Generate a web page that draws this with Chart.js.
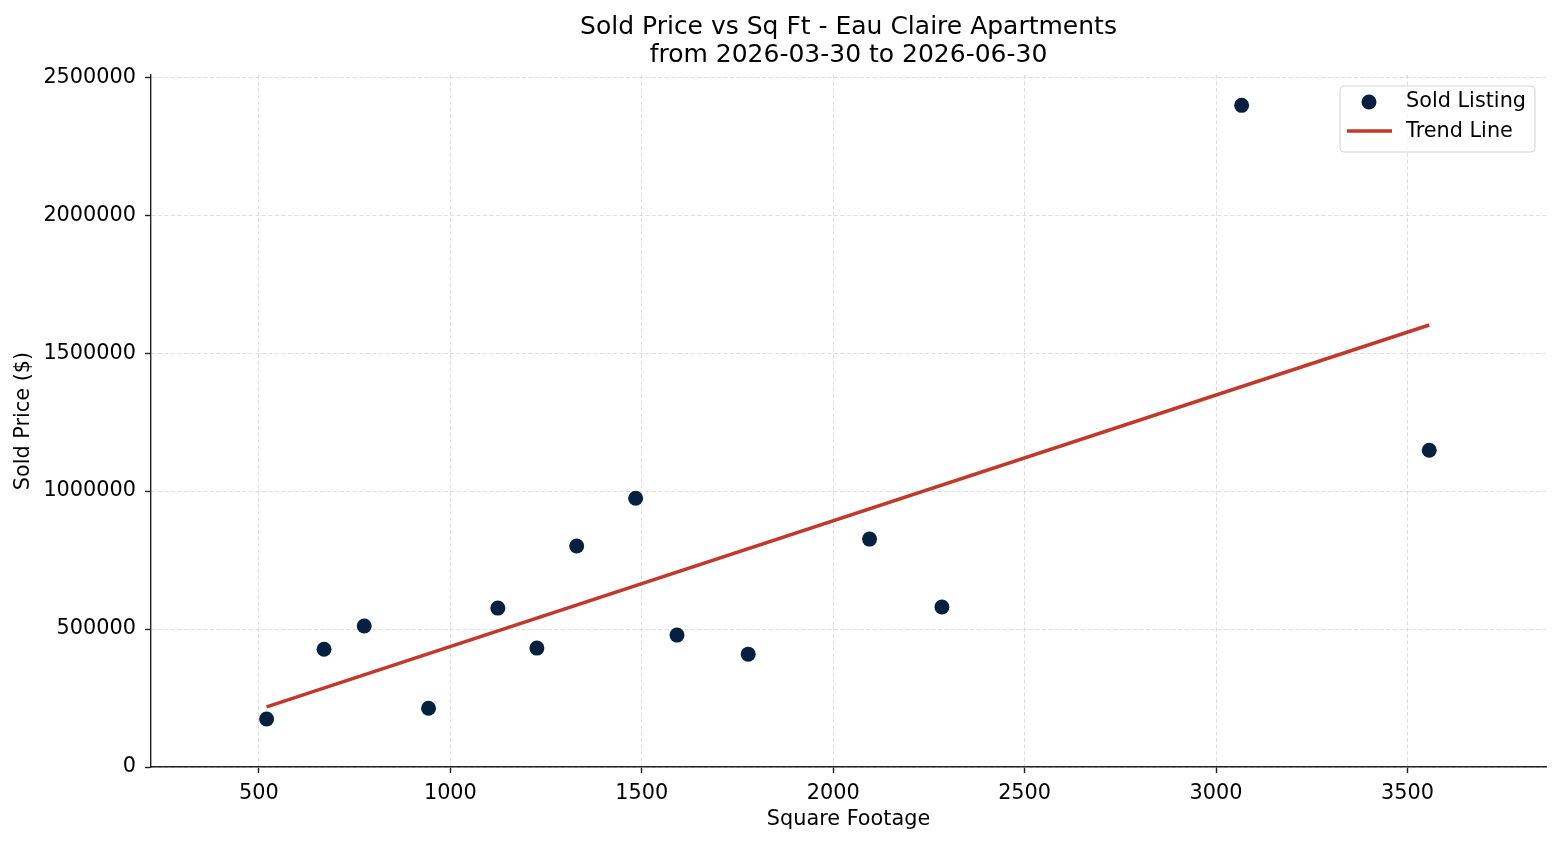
<!DOCTYPE html>
<html>
<head>
<meta charset="utf-8">
<title>Sold Price vs Sq Ft - Eau Claire Apartments</title>
<script src="https://cdn.jsdelivr.net/npm/chart.js@4"></script>
<style>
  html, body { margin: 0; padding: 0; background: #fff; }
  #wrap { width: 1560px; height: 845px; }
</style>
</head>
<body>
<div id="wrap"><canvas id="myChart" width="1560" height="845"></canvas></div>
<script>
// sold listings (square footage, sold price)
const sqft = [520, 670, 775, 943, 1124, 1226, 1330, 1484, 1592, 1778, 2095, 2284, 3067, 3557];
const price = [174000, 427000, 511000, 213000, 576000, 431000, 801000, 974000, 478000, 409000, 826000, 580000, 2398000, 1148000];

// trend line end points
const trendX = [520, 3557];
const trendY = [218000, 1602000];

const xTicks = [500, 1000, 1500, 2000, 2500, 3000, 3500];
const yTicks = [0, 500000, 1000000, 1500000, 2000000, 2500000];

const FONT = 'DejaVu Sans';
const navy = '#06203f';
const red = '#c0392b';

const soldPoints = sqft.map((x, i) => ({ x: x, y: price[i] }));
const trendPoints = trendX.map((x, i) => ({ x: x, y: trendY[i] }));

// legend drawn inside the plot, upper right like the original
const legendBox = {
    id: 'legendBox',
    afterDraw(chart) {
        const ctx = chart.ctx;
        const x = 1340, y = 86, w = 195, h = 66;
        ctx.save();
        ctx.beginPath();
        ctx.roundRect(x, y, w, h, 4);
        ctx.fillStyle = 'rgba(255,255,255,0.8)';
        ctx.fill();
        ctx.strokeStyle = '#d4d4d4';
        ctx.lineWidth = 1;
        ctx.stroke();

        ctx.fillStyle = navy;
        ctx.beginPath();
        ctx.arc(1369, 102, 7.5, 0, Math.PI * 2);
        ctx.fill();

        ctx.strokeStyle = red;
        ctx.lineWidth = 3.5;
        ctx.beginPath();
        ctx.moveTo(1347, 131);
        ctx.lineTo(1392, 131);
        ctx.stroke();

        ctx.fillStyle = '#000';
        ctx.font = '20.8px "' + FONT + '"';
        ctx.textBaseline = 'middle';
        ctx.textAlign = 'left';
        ctx.fillText('Sold Listing', 1406, 102);
        ctx.fillText('Trend Line', 1406, 132);
        ctx.restore();
    }
};

const ctx = document.getElementById('myChart').getContext('2d');
const myChart = new Chart(ctx, {
    type: 'scatter',
    data: {
        datasets: [{
            label: 'Sold Listing',
            data: soldPoints,
            backgroundColor: navy,
            borderColor: navy,
            pointRadius: 7.5,
            pointHoverRadius: 7.5,
            pointBorderWidth: 0,
            order: 1
        }, {
            label: 'Trend Line',
            data: trendPoints,
            showLine: true,
            borderColor: red,
            borderWidth: 3.5,
            pointRadius: 0,
            pointHoverRadius: 0,
            fill: false,
            order: 2
        }]
    },
    options: {
        responsive: false,
        animation: false,
        devicePixelRatio: 1,
        layout: { padding: { left: 0, right: 14, top: 0, bottom: 0 } },
        plugins: {
            legend: { display: false },
            tooltip: { enabled: false },
            title: {
                display: true,
                fullSize: false,
                text: ['Sold Price vs Sq Ft - Eau Claire Apartments', 'from 2026-03-30 to 2026-06-30'],
                color: '#000',
                font: { family: FONT, size: 25, weight: 'normal', lineHeight: 1.12 },
                padding: { top: 13, bottom: 6 }
            }
        },
        scales: {
            x: {
                type: 'linear',
                min: 218,
                max: 3862,
                afterBuildTicks: (scale) => { scale.ticks = xTicks.map(v => ({ value: v })); },
                afterFit: (scale) => { scale.height = 78; },
                ticks: {
                    color: '#000',
                    font: { family: FONT, size: 20.8 },
                    padding: 8,
                    maxRotation: 0,
                    callback: (v) => String(v)
                },
                grid: {
                    color: '#d6d6d6',
                    lineWidth: 0.8,
                    tickLength: 6,
                    tickColor: '#222',
                    tickWidth: 1.4,
                    tickBorderDash: []
                },
                border: { display: true, color: '#222', width: 1.4, dash: [4, 2.5] },
                title: {
                    display: true,
                    text: 'Square Footage',
                    color: '#000',
                    font: { family: FONT, size: 20.8 },
                    padding: { top: 0, bottom: 13 }
                }
            },
            y: {
                type: 'linear',
                min: 0,
                max: 2508000,
                afterBuildTicks: (scale) => { scale.ticks = yTicks.map(v => ({ value: v })); },
                afterFit: (scale) => { scale.width = 151; },
                ticks: {
                    color: '#000',
                    font: { family: FONT, size: 20.8 },
                    padding: 9,
                    callback: (v) => String(v)
                },
                grid: {
                    color: '#d6d6d6',
                    lineWidth: 0.8,
                    tickLength: 6,
                    tickColor: '#222',
                    tickWidth: 1.4,
                    tickBorderDash: []
                },
                border: { display: true, color: '#222', width: 1.4, dash: [4, 2.5] },
                title: {
                    display: true,
                    text: 'Sold Price ($)',
                    color: '#000',
                    font: { family: FONT, size: 20.8 },
                    padding: { top: 11, bottom: 0 }
                }
            }
        }
    },
    plugins: [legendBox]
});
</script>
</body>
</html>
